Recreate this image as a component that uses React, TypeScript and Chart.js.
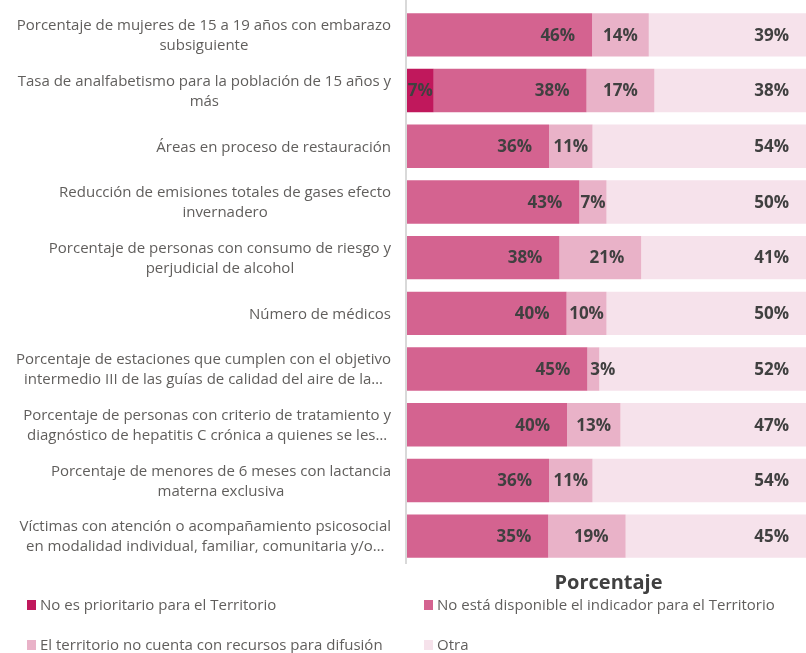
import React, { useEffect, useRef } from 'react';
import { Chart, registerables } from 'chart.js';

Chart.register(...registerables);

const categories: string[][] = [
  ['Porcentaje de mujeres de 15 a 19 años con embarazo', 'subsiguiente'],
  ['Tasa de analfabetismo para la población de 15 años y', 'más'],
  ['Áreas en proceso de restauración'],
  ['Reducción de emisiones totales de gases efecto', 'invernadero'],
  ['Porcentaje de personas con consumo de riesgo y', 'perjudicial de alcohol'],
  ['Número de médicos'],
  ['Porcentaje de estaciones que cumplen con el objetivo', 'intermedio III de las guías de calidad del aire de la…'],
  ['Porcentaje de personas con criterio de tratamiento y', 'diagnóstico de hepatitis C crónica a quienes se les…'],
  ['Porcentaje de menores de 6 meses con lactancia', 'materna exclusiva'],
  ['Víctimas con atención o acompañamiento psicosocial', 'en modalidad individual, familiar, comunitaria y/o…'],
];

const seriesNames = [
  'No es prioritario para el Territorio',
  'No está disponible el indicador para el Territorio',
  'El territorio no cuenta con recursos para difusión',
  'Otra',
];

const noPrioritario = [0, 6.7, 0, 0, 0, 0, 0, 0, 0, 0];
const noDisponible = [46.4, 38.3, 35.6, 43.2, 38.2, 40.0, 45.2, 40.1, 35.6, 35.4];
const sinRecursos = [14.2, 17.0, 10.9, 6.8, 20.5, 10.0, 3.0, 13.4, 10.9, 19.4];
const otra = [39.4, 38.0, 53.5, 50.0, 41.3, 50.0, 51.8, 46.5, 53.5, 45.2];

const seriesColors = ['#c0185c', '#d46390', '#e9b2c8', '#f6e2eb'];

const axisTitle = 'Porcentaje';

const FONT = '"Open Sans", "Noto Sans", sans-serif';

const customPlugin = {
  id: 'customDraw',
  afterDatasetsDraw(chart: any) {
    const ctx: CanvasRenderingContext2D = chart.ctx;
    const area = chart.chartArea;
    ctx.save();

    // y axis line
    ctx.strokeStyle = '#d9d9d9';
    ctx.lineWidth = 2;
    ctx.beginPath();
    ctx.moveTo(area.left - 1, 0);
    ctx.lineTo(area.left - 1, area.bottom);
    ctx.stroke();

    // data labels
    ctx.font = `bold 17px ${FONT}`;
    ctx.fillStyle = '#404040';
    ctx.textBaseline = 'middle';
    chart.data.datasets.forEach((ds: any, di: number) => {
      const meta = chart.getDatasetMeta(di);
      meta.data.forEach((bar: any, i: number) => {
        const v = ds.data[i];
        if (!v) return;
        const text = Math.round(v) + '%';
        const p = bar.getProps(['x', 'base', 'y'], true);
        const w = p.x - p.base;
        const tw = ctx.measureText(text).width;
        let tx: number;
        if (tw > w + 4) {
          ctx.textAlign = 'left';
          tx = p.base + 3;
        } else {
          ctx.textAlign = 'right';
          tx = p.x - Math.max(0, Math.min(17, (w - tw) / 2));
        }
        ctx.fillText(text, tx, p.y + 1);
      });
    });

    // category labels
    const yScale = chart.scales.y;
    ctx.font = `15px ${FONT}`;
    ctx.fillStyle = '#605e5c';
    ctx.textAlign = 'center';
    const right = area.left - 16;
    categories.forEach((lines, i) => {
      const cy = yScale.getPixelForValue(i) + 1;
      const widest = Math.max(...lines.map((l) => ctx.measureText(l).width));
      const cx = right - widest / 2;
      lines.forEach((l, li) => {
        ctx.fillText(l, cx, cy + (li - (lines.length - 1) / 2) * 20);
      });
    });

    // axis title
    ctx.font = `bold 20px ${FONT}`;
    ctx.fillStyle = '#404040';
    ctx.textAlign = 'center';
    ctx.fillText(axisTitle, (area.left + area.right) / 2 + 2, 583);

    // legend
    ctx.font = `15px ${FONT}`;
    ctx.textAlign = 'left';
    const pos = [
      [27, 605],
      [424, 605],
      [27, 645],
      [424, 645],
    ];
    seriesNames.forEach((name, i) => {
      const [lx, ly] = pos[i];
      ctx.fillStyle = seriesColors[i];
      ctx.fillRect(lx, ly - 5, 9, 10);
      ctx.fillStyle = '#605e5c';
      ctx.fillText(name, lx + 13, ly + 1);
    });

    ctx.restore();
  },
};

export default function App() {
  const canvasRef = useRef<HTMLCanvasElement | null>(null);

  useEffect(() => {
    const canvas = canvasRef.current;
    if (!canvas) return;
    const data = [noPrioritario, noDisponible, sinRecursos, otra];
    const chart = new Chart(canvas, {
      type: 'bar',
      data: {
        labels: categories.map((c) => c.join(' ')),
        datasets: seriesNames.map((name, i) => ({
          label: name,
          data: data[i],
          backgroundColor: seriesColors[i],
          borderWidth: 0,
          categoryPercentage: 1,
          barPercentage: 0.78,
        })),
      },
      options: {
        indexAxis: 'y',
        animation: false,
        responsive: false,
        maintainAspectRatio: false,
        layout: { padding: { left: 407, top: 7, bottom: 89, right: 0 } },
        scales: {
          x: { display: false, stacked: true, min: 0, max: 100 },
          y: { display: false, stacked: true },
        },
        plugins: {
          legend: { display: false },
          tooltip: { enabled: false },
        },
      },
      plugins: [customPlugin],
    });
    return () => chart.destroy();
  }, []);

  return (
    <div style={{ position: 'fixed', left: 0, top: 0, width: 806, height: 653, background: '#fff' }}>
      <canvas ref={canvasRef} width={806} height={653} style={{ width: 806, height: 653, display: 'block' }} />
    </div>
  );
}
